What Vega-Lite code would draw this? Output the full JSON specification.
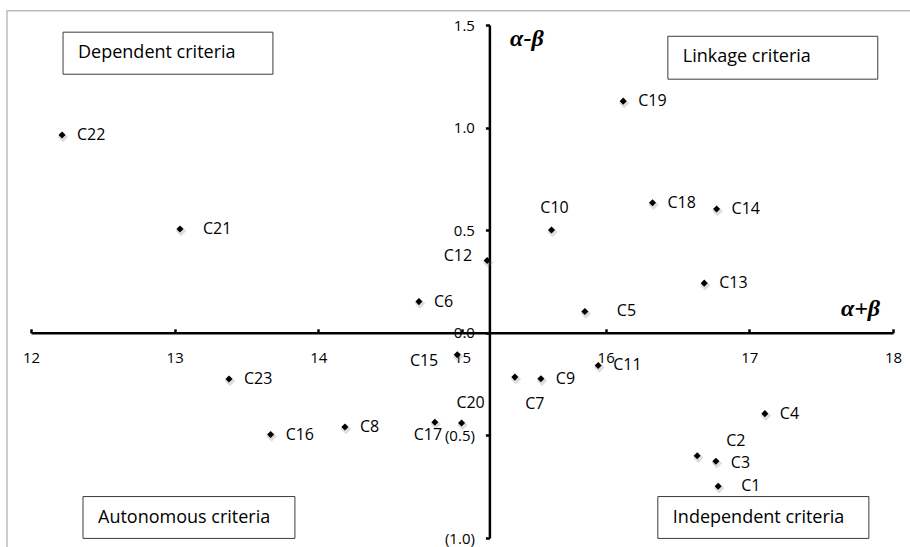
{
  "$schema": "https://vega.github.io/schema/vega-lite/v6.json",
  "width": 862,
  "height": 513,
  "autosize": "none",
  "padding": {"left": 31, "top": 25, "right": 17, "bottom": 9},
  "background": "white",
  "config": {"view": {"stroke": null}, "font": "Open Sans"},
  "datasets": {
    "points": [
      {"label": "C1", "sum": 16.783, "diff": -0.748},
      {"label": "C2", "sum": 16.637, "diff": -0.599},
      {"label": "C3", "sum": 16.767, "diff": -0.626},
      {"label": "C4", "sum": 17.108, "diff": -0.394},
      {"label": "C5", "sum": 15.855, "diff": 0.104},
      {"label": "C6", "sum": 14.700, "diff": 0.152},
      {"label": "C7", "sum": 15.368, "diff": -0.216},
      {"label": "C8", "sum": 14.185, "diff": -0.459},
      {"label": "C9", "sum": 15.549, "diff": -0.224},
      {"label": "C10", "sum": 15.623, "diff": 0.501},
      {"label": "C11", "sum": 15.948, "diff": -0.159},
      {"label": "C12", "sum": 15.175, "diff": 0.352},
      {"label": "C13", "sum": 16.686, "diff": 0.242},
      {"label": "C14", "sum": 16.772, "diff": 0.603},
      {"label": "C15", "sum": 14.967, "diff": -0.107},
      {"label": "C16", "sum": 13.668, "diff": -0.496},
      {"label": "C17", "sum": 14.811, "diff": -0.436},
      {"label": "C18", "sum": 16.326, "diff": 0.634},
      {"label": "C19", "sum": 16.122, "diff": 1.129},
      {"label": "C20", "sum": 14.997, "diff": -0.440},
      {"label": "C21", "sum": 13.037, "diff": 0.506},
      {"label": "C22", "sum": 12.216, "diff": 0.964},
      {"label": "C23", "sum": 13.378, "diff": -0.225}
    ],
    "boxes": [
      {"label": "Dependent criteria", "sum": 12.223, "sum2": 13.684, "diff": 1.465, "diff2": 1.260},
      {"label": "Linkage criteria", "sum": 16.433, "sum2": 17.894, "diff": 1.445, "diff2": 1.236},
      {"label": "Autonomous criteria", "sum": 12.362, "sum2": 13.837, "diff": -0.798, "diff2": -1.002},
      {"label": "Independent criteria", "sum": 16.363, "sum2": 17.832, "diff": -0.798, "diff2": -1.002}
    ],
    "frame": [
      {"sum": 11.833, "sum2": 18.4, "diff": 1.569, "diff2": -1.2}
    ]
  },
  "data": {"name": "points"},
  "encoding": {
    "x": {
      "field": "sum", "type": "quantitative",
      "scale": {"domain": [12, 18], "nice": false, "zero": false},
      "axis": {
        "offset": -205.2,
        "values": [12, 13, 14, 15, 16, 17, 18],
        "grid": false,
        "domainColor": "black", "domainWidth": 2.5,
        "tickColor": "black", "tickWidth": 2.5, "tickSize": -4,
        "labelPadding": 22, "labelFont": "Open Sans", "labelFontSize": 15, "labelColor": "black",
        "labelFlush": false, "labelOverlap": false,
        "title": "α+β", "titleFont": "Liberation Serif", "titleFontStyle": "italic", "titleFontWeight": "bold",
        "titleFontSize": 24, "titleColor": "black",
        "titleX": 829, "titleY": -24, "titleAlign": "center", "titleBaseline": "middle", "titleAngle": 0
      }
    },
    "y": {
      "field": "diff", "type": "quantitative",
      "scale": {"domain": [-1, 1.5], "nice": false, "zero": false},
      "axis": {
        "offset": -458.4,
        "values": [-1, -0.5, 0, 0.5, 1, 1.5],
        "grid": false,
        "domainColor": "black", "domainWidth": 2.5,
        "tickColor": "black", "tickWidth": 2.5, "tickSize": 4,
        "labelPadding": 11, "labelFont": "Open Sans", "labelFontSize": 15, "labelColor": "black",
        "labelFlush": false, "labelOverlap": false,
        "labelExpr": "datum.value < 0 ? '(' + format(-datum.value, '.1f') + ')' : format(datum.value, '.1f')",
        "title": "α-β", "titleFont": "Liberation Serif", "titleFontStyle": "italic", "titleFontWeight": "bold",
        "titleFontSize": 24, "titleColor": "black",
        "titleX": 37, "titleY": 13, "titleAlign": "center", "titleBaseline": "middle", "titleAngle": 0
      }
    }
  },
  "layer": [
    {
      "data": {"name": "frame"},
      "mark": {"type": "rect", "fill": "white", "fillOpacity": 0, "stroke": "#bdbdbd", "strokeWidth": 1.5},
      "encoding": {"x2": {"field": "sum2"}, "y2": {"field": "diff2"}}
    },
    {
      "data": {"name": "boxes"},
      "mark": {"type": "rect", "fill": "white", "stroke": "#3c3c3c", "strokeWidth": 1},
      "encoding": {"x2": {"field": "sum2"}, "y2": {"field": "diff2"}}
    },
    {
      "data": {"name": "boxes"},
      "mark": {"type": "text", "align": "left", "baseline": "middle", "dx": 15, "dy": 21, "font": "Open Sans", "fontSize": 18, "color": "black"},
      "encoding": {"text": {"field": "label"}}
    },
    {
      "mark": {"type": "point", "shape": "diamond", "filled": true, "color": "#777", "opacity": 0.25, "size": 110, "xOffset": 1, "yOffset": 2},
      "encoding": {}
    },
    {
      "mark": {"type": "point", "shape": "diamond", "filled": true, "color": "black", "opacity": 1, "size": 50},
      "encoding": {}
    },
    {
      "transform": [{"filter": {"field": "label", "oneOf": ["C22", "C19", "C18", "C14", "C13", "C6", "C23", "C16", "C8", "C9", "C11", "C4"]}}],
      "mark": {"type": "text", "align": "left", "baseline": "middle", "dx": 15, "font": "Open Sans", "fontSize": 16, "color": "black"},
      "encoding": {"text": {"field": "label"}}
    },
    {
      "transform": [{"filter": {"field": "label", "equal": "C3"}}],
      "mark": {"type": "text", "align": "left", "baseline": "middle", "dx": 15, "dy": 2, "font": "Open Sans", "fontSize": 16, "color": "black"},
      "encoding": {"text": {"field": "label"}}
    },
    {
      "transform": [{"filter": {"field": "label", "oneOf": ["C21", "C1"]}}],
      "mark": {"type": "text", "align": "left", "baseline": "middle", "dx": 23, "font": "Open Sans", "fontSize": 16, "color": "black"},
      "encoding": {"text": {"field": "label"}}
    },
    {
      "transform": [{"filter": {"field": "label", "equal": "C5"}}],
      "mark": {"type": "text", "align": "left", "baseline": "middle", "dx": 32, "font": "Open Sans", "fontSize": 16, "color": "black"},
      "encoding": {"text": {"field": "label"}}
    },
    {
      "transform": [{"filter": {"field": "label", "equal": "C2"}}],
      "mark": {"type": "text", "align": "left", "baseline": "middle", "dx": 29, "dy": -15, "font": "Open Sans", "fontSize": 16, "color": "black"},
      "encoding": {"text": {"field": "label"}}
    },
    {
      "transform": [{"filter": {"field": "label", "equal": "C10"}}],
      "mark": {"type": "text", "align": "center", "baseline": "middle", "dx": 3, "dy": -22, "font": "Open Sans", "fontSize": 16, "color": "black"},
      "encoding": {"text": {"field": "label"}}
    },
    {
      "transform": [{"filter": {"field": "label", "equal": "C12"}}],
      "mark": {"type": "text", "align": "right", "baseline": "middle", "dx": -15, "dy": -5, "font": "Open Sans", "fontSize": 16, "color": "black"},
      "encoding": {"text": {"field": "label"}}
    },
    {
      "transform": [{"filter": {"field": "label", "equal": "C15"}}],
      "mark": {"type": "text", "align": "right", "baseline": "middle", "dx": -19, "dy": 6, "font": "Open Sans", "fontSize": 16, "color": "black"},
      "encoding": {"text": {"field": "label"}}
    },
    {
      "transform": [{"filter": {"field": "label", "equal": "C7"}}],
      "mark": {"type": "text", "align": "center", "baseline": "middle", "dx": 20, "dy": 27, "font": "Open Sans", "fontSize": 16, "color": "black"},
      "encoding": {"text": {"field": "label"}}
    },
    {
      "transform": [{"filter": {"field": "label", "equal": "C20"}}],
      "mark": {"type": "text", "align": "center", "baseline": "middle", "dx": 9, "dy": -20, "font": "Open Sans", "fontSize": 16, "color": "black"},
      "encoding": {"text": {"field": "label"}}
    },
    {
      "transform": [{"filter": {"field": "label", "equal": "C17"}}],
      "mark": {"type": "text", "align": "center", "baseline": "middle", "dx": -7, "dy": 13, "font": "Open Sans", "fontSize": 16, "color": "black"},
      "encoding": {"text": {"field": "label"}}
    }
  ]
}
